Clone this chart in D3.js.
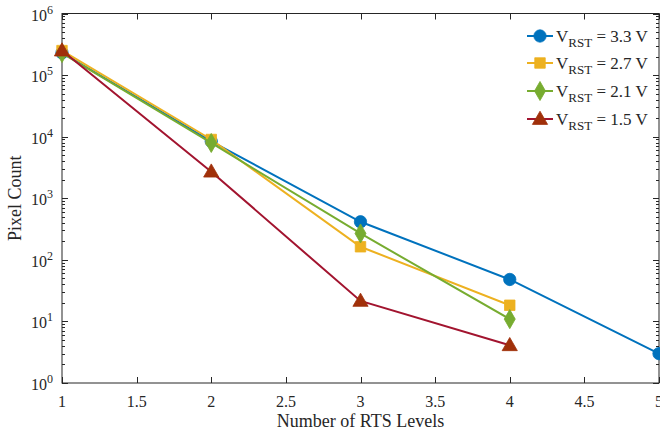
<!DOCTYPE html>
<html><head><meta charset="utf-8">
<script src="https://cdn.jsdelivr.net/npm/d3@7"></script>
<style>body{margin:0;background:#fff}svg{display:block}text{font-family:"Liberation Serif","Times New Roman",serif;fill:#262626}</style>
</head><body><svg id="c" width="660" height="433"></svg>
<script>
const xLevels3 = [1, 2, 3, 4, 5];
const xLevels = [1, 2, 3, 4];
const v33 = [230000, 8400, 415, 48, 3];
const v27 = [250000, 9000, 163, 18.3];
const v21 = [228000, 7900, 268, 10.9];
const v15 = [250000, 2700, 21.5, 4.1];
const seriesNames = ["3.3 V", "2.7 V", "2.1 V", "1.5 V"];
const xTicks = [1, 1.5, 2, 2.5, 3, 3.5, 4, 4.5, 5];
const yTickExp = [0, 1, 2, 3, 4, 5, 6];

const series = [
  {name: seriesNames[0], xs: xLevels3, ys: v33, color: "#0072BD", fill: "#0072BD", sym: "circle"},
  {name: seriesNames[1], xs: xLevels, ys: v27, color: "#EDB120", fill: "#EDB120", sym: "square"},
  {name: seriesNames[2], xs: xLevels, ys: v21, color: "#77AC30", fill: "#77AC30", sym: "diamond"},
  {name: seriesNames[3], xs: xLevels, ys: v15, color: "#A2142F", fill: "#A0300A", sym: "triangle"}
];

const svg = d3.select("#c");
const L = 62, R = 659, T = 13.5, B = 383;
const x = d3.scaleLinear().domain([1, 5]).range([L, R]);
const y = d3.scaleLog().domain([1, 1e6]).range([B, T]);
const axisColor = "#262626";

// box
const g = svg.append("g");
g.append("rect").attr("x", L).attr("y", T).attr("width", R - L).attr("height", B - T)
  .attr("fill", "none").attr("stroke", axisColor).attr("stroke-width", 1);

// x ticks top & bottom (inward)
xTicks.forEach(t => {
  const px = Math.round(x(t)) + 0.5;
  g.append("line").attr("x1", px).attr("x2", px).attr("y1", B).attr("y2", B - 6).attr("stroke", axisColor);
  g.append("line").attr("x1", px).attr("x2", px).attr("y1", T).attr("y2", T + 6).attr("stroke", axisColor);
  g.append("text").attr("x", x(t)).attr("y", 407).attr("text-anchor", "middle")
    .attr("font-size", 16).text(d3.format("")(t));
});

// y ticks major and minor
yTickExp.forEach(e => {
  const py = Math.round(y(Math.pow(10, e))) + 0.5;
  g.append("line").attr("x1", L).attr("x2", L + 6).attr("y1", py).attr("y2", py).attr("stroke", axisColor);
  g.append("line").attr("x1", R).attr("x2", R - 6).attr("y1", py).attr("y2", py).attr("stroke", axisColor);
  const tx = g.append("text").attr("x", 53).attr("y", py + 6).attr("text-anchor", "end").attr("font-size", 16);
  tx.append("tspan").text("10");
  tx.append("tspan").attr("dy", -7).attr("font-size", 12).text(e);
  if (e < 6) {
    for (let k = 2; k <= 9; k++) {
      const my = Math.round(y(k * Math.pow(10, e))) + 0.5;
      g.append("line").attr("x1", L).attr("x2", L + 3).attr("y1", my).attr("y2", my).attr("stroke", axisColor);
      g.append("line").attr("x1", R).attr("x2", R - 3).attr("y1", my).attr("y2", my).attr("stroke", axisColor);
    }
  }
});

// axis titles
svg.append("text").attr("x", (L + R) / 2).attr("y", 427).attr("text-anchor", "middle")
  .attr("font-size", 18).text("Number of RTS Levels");
svg.append("text").attr("transform", `translate(21,${(T + B) / 2}) rotate(-90)`)
  .attr("text-anchor", "middle").attr("font-size", 18).text("Pixel Count");

// markers
const symMap = {circle: d3.symbolCircle, square: d3.symbolSquare, diamond: d3.symbolDiamond, triangle: d3.symbolTriangle};
const sizeMap = {circle: 120, square: 110, diamond: 95, triangle: 100};
function marker(sel, s, cx, cy) {
  const shape = d3.symbol().type(symMap[s.sym]).size(sizeMap[s.sym]);
  const p = sel.append("path").attr("d", shape()).attr("fill", s.fill).attr("stroke", s.fill).attr("stroke-width", 0.8);
  if (s.sym === "diamond") p.attr("transform", `translate(${cx},${cy}) scale(1.05,1.05)`);
  else if (s.sym === "triangle") p.attr("transform", `translate(${cx},${cy + 1})`);
  else p.attr("transform", `translate(${cx},${cy})`);
}

const line = d3.line().x(d => x(d[0])).y(d => y(d[1]));
series.forEach(s => {
  const pts = s.xs.map((xv, i) => [xv, s.ys[i]]);
  svg.append("path").attr("d", line(pts)).attr("fill", "none").attr("stroke", s.color).attr("stroke-width", 2);
  pts.forEach(p => marker(svg, s, x(p[0]), y(p[1])));
});

// legend
const legY = [36, 63, 91, 119];
series.forEach((s, i) => {
  const ly = legY[i];
  svg.append("line").attr("x1", 527).attr("x2", 553).attr("y1", ly).attr("y2", ly).attr("stroke", s.color).attr("stroke-width", 2);
  marker(svg, s, 540, ly);
  const t = svg.append("text").attr("x", 556).attr("y", ly + 6).attr("font-size", 17);
  t.append("tspan").text("V");
  t.append("tspan").attr("dy", 5).attr("font-size", 13).text("RST");
  t.append("tspan").attr("dy", -5).text(" = " + s.name);
});
</script></body></html>
